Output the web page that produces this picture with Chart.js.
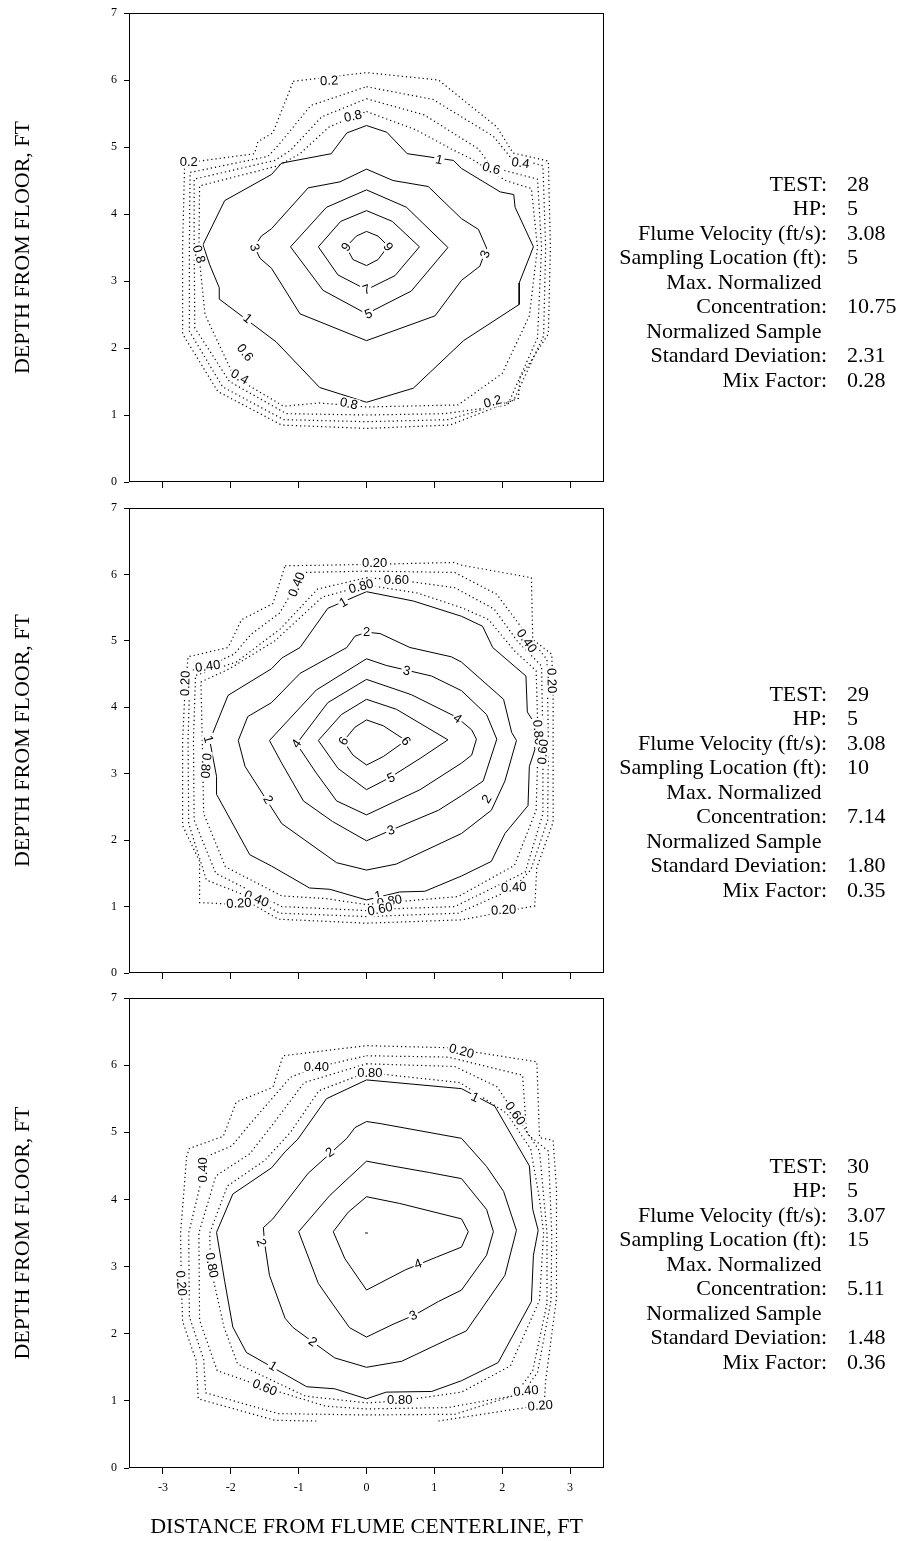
<!DOCTYPE html>
<html>
<head>
<meta charset="utf-8">
<script src="https://cdn.jsdelivr.net/npm/chart.js"></script>
<style>
  html, body { margin: 0; padding: 0; background: #fff; }
  #page { position: relative; width: 901px; height: 1541px; overflow: hidden; }
  canvas { position: absolute; left: 0; }
  .info { position: absolute; font-family: "Liberation Serif", "Times New Roman", serif; font-size: 22px; color: #000; white-space: pre; line-height: 24.5px; height: 24.5px; }
  .info.lab { left: 500px; width: 327px; text-align: right; }
  .info.val { left: 847px; text-align: left; }
</style>
</head>
<body>
<div id="page">
  <canvas id="p28" width="901" height="495" style="top:0px"></canvas>
  <canvas id="p29" width="901" height="491" style="top:495px"></canvas>
  <canvas id="p30" width="901" height="556" style="top:985px"></canvas>
</div>
<script>
// ---------- axes ----------
const xTickValues = [-3, -2, -1, 0, 1, 2, 3];
const yTickValues = [0, 1, 2, 3, 4, 5, 6, 7];
const xTitle = 'DISTANCE FROM FLUME CENTERLINE, FT';
const yTitle = 'DEPTH FROM FLOOR, FT';

// ---------- TEST 28 contours: [distance from centerline ft, depth ft] ----------
const t28Levels = [0.2, 0.4, 0.6, 0.8, 1, 3, 5, 7, 9];
const t28_c02 = [[-1.08,5.98],[0,6.11],[1.06,6.00],[1.92,5.30],[2.16,4.91],[2.68,4.79],[2.71,3.50],[2.68,2.21],[2.26,1.55],[2.24,1.25],[1.23,0.85],[0,0.80],[-1.25,0.85],[-2.19,1.35],[-2.71,2.21],[-2.71,3.50],[-2.68,4.76],[-1.65,4.90],[-1.60,5.08],[-1.38,5.21],[-1.08,5.98]];
const t28_c04 = [[0,5.90],[0.98,5.71],[1.87,5.16],[2.11,4.86],[2.60,4.72],[2.64,3.50],[2.61,2.18],[2.17,1.22],[1.20,0.93],[0,0.90],[-1.22,0.93],[-2.12,1.42],[-2.61,2.25],[-2.61,3.50],[-2.60,4.62],[-1.45,4.86],[-1.28,5.05],[-0.82,5.62],[0,5.90]];
const t28_c06 = [[0,5.72],[0.85,5.48],[1.65,4.97],[1.84,4.70],[2.52,4.52],[2.58,3.50],[2.52,2.15],[2.08,1.15],[1.15,1.02],[0,1.00],[-1.18,1.02],[-2.02,1.50],[-2.53,2.30],[-2.54,3.50],[-2.54,4.52],[-1.35,4.80],[-1.12,4.95],[-0.66,5.45],[0,5.72]];
const t28_c08 = [[0,5.53],[0.72,5.26],[1.25,4.97],[1.55,4.82],[2.05,4.50],[2.43,4.38],[2.52,3.50],[2.40,2.48],[2.00,1.62],[1.35,1.15],[0,1.12],[-0.70,1.18],[-1.22,1.13],[-1.95,1.57],[-2.38,2.50],[-2.47,3.40],[-2.46,4.42],[-1.30,4.72],[-0.98,4.90],[-0.55,5.30],[0,5.53]];
const t28_c1  = [[0,5.32],[0.30,5.22],[0.60,4.90],[1.28,4.80],[1.40,4.68],[1.97,4.33],[2.17,4.29],[2.19,4.10],[2.46,3.51],[2.25,2.97],[2.25,2.65],[1.43,2.11],[0.69,1.40],[0,1.19],[-0.69,1.41],[-1.33,2.09],[-2.17,2.73],[-2.17,2.90],[-2.31,3.24],[-2.41,3.54],[-2.09,4.20],[-1.40,4.59],[-1.25,4.76],[-0.52,4.90],[-0.29,5.21],[0,5.32]];
const t28_c3  = [[0,4.67],[0.39,4.50],[0.91,4.41],[1.40,3.93],[1.65,3.77],[1.77,3.49],[1.67,3.22],[1.40,3.01],[1.01,2.48],[0,2.11],[-0.98,2.51],[-1.40,3.19],[-1.57,3.34],[-1.65,3.51],[-1.55,3.67],[-1.40,3.78],[-0.86,4.39],[-0.39,4.48],[0,4.67]];
const t28_c5  = [[0,4.36],[0.59,4.10],[1.20,3.50],[0.66,2.85],[0,2.51],[-0.64,2.86],[-1.12,3.51],[-0.59,4.10],[0,4.36]];
const t28_c7  = [[0,4.05],[0.38,3.89],[0.78,3.51],[0.42,3.08],[0,2.87],[-0.42,3.09],[-0.71,3.51],[-0.38,3.89],[0,4.05]];
const t28_c9  = [[0,3.74],[0.17,3.67],[0.32,3.52],[0.17,3.32],[0,3.23],[-0.20,3.32],[-0.30,3.51],[-0.15,3.67],[0,3.74]];
// contour labels: [x, y, text, rotation in degrees]
const t28Labels = [
  [-0.55,5.99,'0.2',-3],[-0.20,5.46,'0.8',-12],[-2.62,4.77,'0.2',0],[1.07,4.81,'1',12],
  [1.84,4.68,'0.6',15],[2.27,4.76,'0.4',8],[-1.65,3.50,'3',75],[-0.30,3.51,'9',-55],
  [0.32,3.51,'9',55],[1.75,3.40,'3',-70],[-2.47,3.40,'0.8',75],[0.0,2.87,'7',-20],
  [0.03,2.51,'5',-20],[-1.75,2.44,'1',40],[-1.79,1.93,'0.6',52],[-1.87,1.57,'0.4',30],
  [-0.26,1.17,'0.8',12],[1.86,1.20,'0.2',-15]
];

// ---------- TEST 29 contours ----------
const t29Levels = [0.2, 0.4, 0.6, 0.8, 1, 2, 3, 4, 5, 6];
const t29_c02 = [[-1.20,6.13],[0,6.15],[1.28,6.18],[1.40,6.14],[2.43,5.95],[2.45,5.02],[2.73,4.80],[2.75,4.24],[2.75,3.50],[2.75,2.27],[2.51,1.59],[2.48,1.01],[1.40,0.80],[0,0.75],[-1.30,0.81],[-1.65,1.02],[-2.46,1.06],[-2.46,1.68],[-2.71,2.22],[-2.71,3.50],[-2.68,4.14],[-2.63,4.76],[-2.04,4.90],[-1.84,5.32],[-1.38,5.56],[-1.20,6.13]];
const t29_c04 = [[0,6.05],[1.30,6.03],[1.92,5.70],[2.30,5.18],[2.66,4.72],[2.68,3.50],[2.67,2.30],[2.42,1.55],[2.16,1.27],[1.35,0.90],[0,0.85],[-1.28,0.90],[-1.62,1.10],[-2.36,1.40],[-2.62,2.25],[-2.63,3.50],[-2.60,4.55],[-2.34,4.62],[-1.95,4.80],[-1.70,5.10],[-1.28,5.42],[-1.03,5.85],[-0.92,6.03],[0,6.05]];
const t29_c06 = [[0,5.95],[0.44,5.92],[1.30,5.80],[1.88,5.48],[2.22,5.00],[2.58,4.62],[2.60,3.50],[2.60,2.40],[2.34,1.52],[1.30,1.00],[0.20,0.96],[0,0.94],[-1.25,1.00],[-2.22,1.50],[-2.54,2.30],[-2.55,3.50],[-2.52,4.48],[-1.92,4.68],[-1.27,5.18],[-0.72,5.78],[0,5.95]];
const t29_c08 = [[0,5.84],[0.75,5.72],[1.40,5.50],[1.80,5.32],[2.18,4.85],[2.50,4.55],[2.53,3.50],[2.50,2.45],[2.18,1.62],[1.35,1.15],[0.30,1.06],[0,1.03],[-0.60,1.12],[-1.25,1.16],[-2.08,1.60],[-2.40,2.40],[-2.42,3.50],[-2.44,4.38],[-2.02,4.58],[-1.35,5.00],[-0.65,5.66],[0,5.84]];
const t29_c1  = [[0,5.74],[0.69,5.60],[1.40,5.37],[1.71,5.22],[1.86,4.90],[2.35,4.47],[2.37,3.93],[2.45,3.80],[2.48,3.36],[2.40,3.11],[2.38,2.52],[2.04,2.10],[1.84,1.68],[1.40,1.46],[0.86,1.23],[0.49,1.22],[0,1.10],[-0.54,1.26],[-0.84,1.28],[-1.40,1.61],[-1.72,1.78],[-2.21,2.69],[-2.21,2.96],[-2.31,3.50],[-2.04,4.18],[-1.40,4.58],[-1.25,4.74],[-0.98,4.90],[-0.57,5.49],[-0.32,5.60],[0,5.74]];
const t29_c2  = [[0,5.13],[0.20,5.11],[0.64,4.90],[1.25,4.76],[1.40,4.68],[2.02,4.12],[2.14,3.62],[2.21,3.50],[2.04,2.89],[1.84,2.45],[1.40,2.10],[0.44,1.64],[0,1.55],[-0.44,1.66],[-1.25,2.25],[-1.79,3.11],[-1.89,3.50],[-1.75,3.86],[-1.40,4.07],[-0.98,4.51],[-0.29,4.90],[-0.17,5.07],[0,5.13]];
const t29_c3  = [[0,4.73],[0.29,4.63],[0.96,4.47],[1.40,4.25],[1.77,3.89],[1.92,3.52],[1.72,2.89],[1.40,2.67],[1.06,2.45],[0.36,2.15],[0,1.99],[-0.50,2.28],[-0.93,2.59],[-1.25,3.16],[-1.43,3.50],[-0.74,4.26],[0,4.73]];
const t29_c4  = [[0,4.42],[0.66,4.19],[1.33,3.85],[1.55,3.66],[1.62,3.52],[1.55,3.28],[1.40,3.16],[0.79,2.76],[0,2.38],[-0.44,2.59],[-0.74,3.01],[-1.03,3.45],[-0.57,4.07],[0,4.42]];
const t29_c5  = [[0,4.12],[0.44,3.97],[1.20,3.51],[0.79,3.23],[0.34,2.94],[0,2.76],[-0.42,3.08],[-0.71,3.50],[-0.37,3.89],[0,4.12]];
const t29_c6  = [[0,3.81],[0.25,3.72],[0.58,3.50],[0.25,3.26],[0,3.13],[-0.20,3.28],[-0.34,3.49],[-0.17,3.70],[0,3.81]];
const t29Labels = [
  [0.12,6.17,'0.20',0],[-1.03,5.85,'0.40',-68],[-0.08,5.82,'0.80',-15],[0.44,5.92,'0.60',0],
  [-0.34,5.58,'1',-30],[0,5.14,'2',0],[0.59,4.55,'3',12],[1.34,3.83,'4',35],
  [2.36,5.00,'0.40',55],[2.73,4.40,'0.20',88],[-2.67,4.36,'0.20',-88],[-2.34,4.62,'0.40',-8],
  [2.53,3.62,'0.80',85],[2.60,3.33,'0.60',-85],[-2.33,3.52,'1',75],[-1.03,3.45,'4',-55],
  [-0.34,3.49,'6',-60],[0.58,3.49,'6',50],[-2.37,3.12,'0.80',95],[-1.45,2.61,'2',60],
  [0.36,2.94,'5',-25],[1.77,2.62,'2',-58],[0.36,2.15,'3',-18],[-1.62,1.12,'0.40',22],
  [-1.88,1.05,'0.20',-3],[0.17,1.16,'1',-10],[0.34,1.08,'0.80',-10],[0.20,0.96,'0.60',-12],
  [2.17,1.29,'0.40',-3],[2.02,0.95,'0.20',-3]
];

// ---------- TEST 30 contours ----------
const t30Levels = [0.2, 0.4, 0.6, 0.8, 1, 2, 3, 4, 5];
const t30_c02 = [[1.06,0.70],[2.41,0.91],[2.62,0.97],[2.64,1.30],[2.80,2.53],[2.80,3.50],[2.80,4.15],[2.75,4.88],[2.55,4.92],[2.51,6.05],[1.18,6.26],[0,6.29],[-1.23,6.14],[-1.38,5.67],[-1.92,5.45],[-2.11,4.94],[-2.61,4.76],[-2.65,4.64],[-2.74,3.50],[-2.73,2.80],[-2.71,2.18],[-2.51,1.60],[-2.48,1.03],[-1.35,0.71],[-0.74,0.70]];
const t30_c04 = [[0,6.14],[1.20,6.12],[2.30,5.85],[2.36,4.98],[2.68,4.72],[2.73,3.50],[2.72,2.50],[2.52,1.42],[2.30,1.12],[1.30,0.80],[0,0.79],[-1.30,0.81],[-2.37,1.12],[-2.40,1.62],[-2.61,2.25],[-2.62,3.50],[-2.43,4.30],[-2.40,4.62],[-1.98,4.80],[-1.72,5.12],[-1.12,5.82],[-0.74,5.97],[0,6.14]];
const t30_c06 = [[0,6.02],[1.30,5.98],[1.92,5.68],[2.19,5.28],[2.55,4.72],[2.66,3.50],[2.66,2.45],[2.45,1.45],[2.18,1.08],[1.20,0.90],[0,0.88],[-0.60,0.92],[-1.50,1.20],[-2.20,1.45],[-2.46,2.20],[-2.47,3.50],[-2.22,4.35],[-1.72,4.68],[-1.38,5.12],[-0.92,5.74],[0,6.02]];
const t30_c08 = [[0,5.89],[1.38,5.74],[2.07,5.28],[2.42,4.75],[2.55,4.00],[2.61,3.50],[2.55,2.50],[2.12,1.52],[1.40,1.13],[0.49,1.00],[0,0.97],[-0.90,1.07],[-1.90,1.55],[-2.10,2.10],[-2.30,3.00],[-2.31,3.50],[-2.05,4.20],[-1.50,4.58],[-1.12,5.00],[-0.70,5.62],[0,5.89]];
const t30_c1  = [[0,5.78],[1.40,5.65],[1.89,5.39],[2.40,4.50],[2.45,3.85],[2.53,3.54],[2.46,3.17],[2.43,2.48],[1.94,1.57],[1.40,1.30],[0.96,1.14],[0.29,1.13],[0,1.03],[-0.47,1.18],[-0.88,1.21],[-1.77,1.72],[-1.97,2.10],[-2.09,2.78],[-2.21,3.51],[-1.97,4.08],[-1.40,4.47],[-1.20,4.71],[-1.01,4.90],[-0.59,5.50],[0,5.78]];
const t30_c2  = [[0,5.16],[0.20,5.13],[1.40,4.91],[1.77,4.49],[2.02,4.12],[2.21,3.54],[2.04,2.87],[1.47,2.04],[1.25,1.94],[0.52,1.59],[0,1.50],[-0.47,1.64],[-1.08,2.09],[-1.20,2.23],[-1.43,2.87],[-1.50,3.34],[-1.52,3.58],[-1.38,3.71],[-0.86,4.39],[-0.54,4.68],[-0.29,4.91],[-0.17,5.07],[0,5.16]];
const t30_c3  = [[0,4.57],[0.37,4.50],[0.93,4.40],[1.40,4.31],[1.77,3.85],[1.87,3.52],[1.77,3.17],[1.40,2.65],[1.06,2.48],[0.71,2.28],[0.39,2.14],[0,1.95],[-0.25,2.09],[-0.49,2.43],[-0.71,2.75],[-1.00,3.52],[-0.54,4.06],[0,4.57]];
const t30_c4  = [[0,4.04],[0.49,3.94],[1.40,3.71],[1.50,3.52],[1.40,3.29],[1.03,3.14],[0.57,2.95],[0,2.65],[-0.32,3.12],[-0.49,3.52],[-0.27,3.81],[0,4.04]];
const t30_c5  = [[-0.02,3.50],[0.02,3.50]];
const t30Labels = [
  [1.40,6.21,'0.20',15],[-0.74,5.98,'0.40',0],[0.05,5.89,'0.80',0],[1.60,5.52,'1',25],
  [2.19,5.28,'0.60',55],[-2.41,4.44,'0.40',-90],[-0.54,4.70,'2',-35],[-1.55,3.36,'2',70],
  [-2.28,3.02,'0.80',80],[-2.73,2.75,'0.20',85],[0.76,3.04,'4',-20],[0.69,2.27,'3',-25],
  [-0.79,1.88,'2',35],[-1.38,1.52,'1',30],[-1.50,1.20,'0.60',22],[0.49,1.01,'0.80',0],
  [2.35,1.15,'0.40',-5],[2.56,0.93,'0.20',-5]
];

// ---------- test summaries ----------
const infoLabels = ['TEST:', 'HP:', 'Flume Velocity (ft/s):', 'Sampling Location (ft):', 'Max. Normalized ', 'Concentration:', 'Normalized Sample ', 'Standard Deviation:', 'Mix Factor:'];
const test28Values = ['28', '5', '3.08', '5', '', '10.75', '', '2.31', '0.28'];
const test29Values = ['29', '5', '3.08', '10', '', '7.14', '', '1.80', '0.35'];
const test30Values = ['30', '5', '3.07', '15', '', '5.11', '', '1.48', '0.36'];

// ---------- drawing ----------
const tickFont = { family: '"Liberation Serif", "Times New Roman", serif', size: 12, lineHeight: 1 };
const titleFont = { family: '"Liberation Serif", "Times New Roman", serif', size: 22 };

// inline contour labels with a white knockout behind them
function labelPlugin(items) {
  return {
    id: 'contourLabels',
    afterDatasetsDraw(chart) {
      const { ctx, scales: { x, y } } = chart;
      ctx.save();
      ctx.font = '13px "Liberation Sans", Arial, sans-serif';
      ctx.textAlign = 'center';
      ctx.textBaseline = 'middle';
      for (const [vx, vy, txt, deg] of items) {
        const px = x.getPixelForValue(vx);
        const py = y.getPixelForValue(vy);
        ctx.save();
        ctx.translate(px, py);
        ctx.rotate(deg * Math.PI / 180);
        const w = ctx.measureText(txt).width;
        ctx.fillStyle = '#fff';
        ctx.fillRect(-w / 2 - 1.5, -6, w + 3, 12);
        ctx.fillStyle = '#000';
        ctx.fillText(txt, 0, 0.5);
        ctx.restore();
      }
      ctx.restore();
    }
  };
}

// plot frame
const framePlugin = {
  id: 'frame',
  afterDraw(chart) {
    const { ctx, chartArea: { left, top, right, bottom } } = chart;
    ctx.save();
    ctx.strokeStyle = '#000';
    ctx.lineWidth = 1;
    ctx.strokeRect(Math.round(left) + 0.5, Math.round(top) + 0.5, Math.round(right - left) - 1, Math.round(bottom - top) - 1);
    ctx.restore();
  }
};

function makePanel(id, levels, contours, labels, showX, padTop, xAxisHeight) {
  const datasets = contours.map((pts, i) => ({
    label: 'C = ' + levels[i],
    data: pts.map(p => ({ x: p[0], y: p[1] })),
    showLine: true,
    borderColor: '#000',
    borderWidth: levels[i] < 1 ? 1.2 : 1,
    borderDash: levels[i] < 1 ? [1.2, 3] : [],
    pointRadius: 0,
    pointHoverRadius: 0,
    tension: 0,
    fill: false
  }));
  return new Chart(document.getElementById(id), {
    type: 'scatter',
    data: { datasets },
    options: {
      responsive: false,
      animation: false,
      devicePixelRatio: 1,
      events: [],
      layout: { padding: { top: padTop, right: 297, bottom: 0, left: 0 } },
      plugins: { legend: { display: false }, tooltip: { enabled: false } },
      scales: {
        x: {
          type: 'linear', min: -3.5, max: 3.5,
          afterBuildTicks: s => { s.ticks = xTickValues.map(v => ({ value: v })); },
          afterFit: s => { s.height = xAxisHeight; },
          grid: { drawOnChartArea: false, drawTicks: true, tickLength: 6, color: '#000' },
          border: { display: false },
          ticks: { display: showX, font: tickFont, color: '#000', padding: 8, maxRotation: 0, autoSkip: false, callback: v => String(v) },
          title: { display: showX, text: xTitle, font: titleFont, color: '#000', padding: { top: 0, bottom: 1 } }
        },
        y: {
          type: 'linear', min: 0, max: 7,
          afterBuildTicks: s => { s.ticks = yTickValues.map(v => ({ value: v })); },
          afterFit: s => { s.width = 129; },
          grid: { drawOnChartArea: false, drawTicks: true, tickLength: 5, color: '#000' },
          border: { display: false },
          ticks: { font: tickFont, color: '#000', padding: 7, autoSkip: false, callback: v => String(v) },
          title: { display: true, text: yTitle, font: titleFont, color: '#000', padding: { top: 10.5, bottom: 0 } }
        }
      }
    },
    plugins: [labelPlugin(labels), framePlugin]
  });
}

makePanel('p28', t28Levels, [t28_c02, t28_c04, t28_c06, t28_c08, t28_c1, t28_c3, t28_c5, t28_c7, t28_c9], t28Labels, false, 12, 8);
makePanel('p29', t29Levels, [t29_c02, t29_c04, t29_c06, t29_c08, t29_c1, t29_c2, t29_c3, t29_c4, t29_c5, t29_c6], t29Labels, false, 8, 8);
makePanel('p30', t30Levels, [t30_c02, t30_c04, t30_c06, t30_c08, t30_c1, t30_c2, t30_c3, t30_c4, t30_c5], t30Labels, true, 8, 73);

// summary text beside each panel
const infoFirstLine = [184, 694, 1166];
const infoStep = 24.5;
const page = document.getElementById('page');
[test28Values, test29Values, test30Values].forEach((vals, b) => {
  infoLabels.forEach((lab, i) => {
    const top = infoFirstLine[b] + i * infoStep - infoStep / 2;
    const l = document.createElement('div');
    l.className = 'info lab';
    l.style.top = top + 'px';
    l.textContent = lab;
    page.appendChild(l);
    if (vals[i]) {
      const v = document.createElement('div');
      v.className = 'info val';
      v.style.top = top + 'px';
      v.textContent = vals[i];
      page.appendChild(v);
    }
  });
});
</script>
</body>
</html>
